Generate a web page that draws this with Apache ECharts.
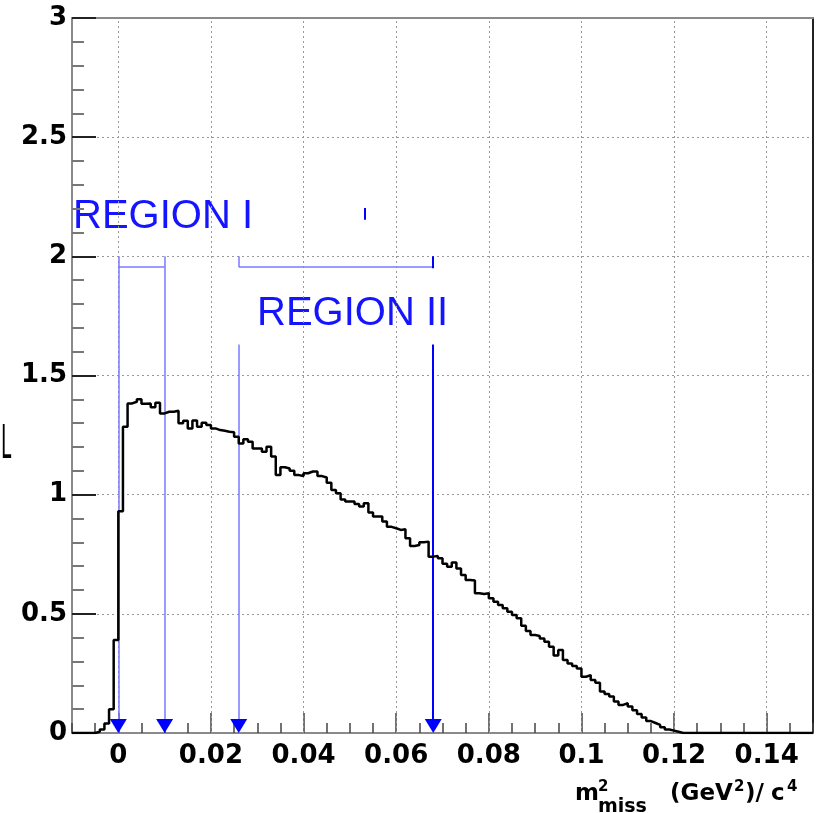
<!DOCTYPE html>
<html><head><meta charset="utf-8">
<script src="https://cdn.jsdelivr.net/npm/echarts@6/dist/echarts.min.js"></script>
<style>html,body{margin:0;padding:0;background:#fff}#c{width:825px;height:813px}</style>
</head><body><div id="c"></div>
<script>
// ---- data ----
const binLow = -0.01;      // first bin lower edge
const binWidth = 0.001;    // bin width (GeV^2/c^4)
const binValues = [
  0,0,0,0,0, 0.005,0.015,0.04,0.10,0.39,
  0.93,1.285,1.383,1.39,1.40,1.381,1.383,1.367,1.386,1.341,
  1.348,1.348,1.352,1.30,1.31,1.278,1.311,1.285,1.302,1.292,
  1.278,1.271,1.268,1.264,1.262,1.243,1.215,1.232,1.222,1.194,
  1.194,1.180,1.201,1.16,1.082,1.115,1.110,1.10,1.082,1.078,
  1.09,1.097,1.097,1.078,1.072,1.05,1.020,1.006,0.98,0.971,
  0.971,0.961,0.950,0.964,0.925,0.908,0.908,0.887,0.865,0.859,
  0.852,0.855,0.817,0.785,0.789,0.80,0.803,0.740,0.743,0.733,
  0.71,0.698,0.715,0.69,0.663,0.642,0.64,0.586,0.583,0.586,
  0.565,0.551,0.537,0.523,0.509,0.495,0.481,0.45,0.428,0.411,
  0.407,0.397,0.383,0.362,0.325,0.348,0.306,0.292,0.281,0.271,
  0.236,0.243,0.222,0.211,0.174,0.164,0.153,0.132,0.118,0.125,
  0.111,0.095,0.080,0.065,0.050,0.042,0.034,0.024,0.015,0.010,
  0.005,0,0,0,0,0,0,0,0,0,
  0,0,0,0,0,0,0,0,0,0,
  0,0,0,0,0,0,0,0,0,0
];
const xMajorTicks = [0, 0.02, 0.04, 0.06, 0.08, 0.1, 0.12, 0.14];
const xRange = [-0.01, 0.15];
const yRange = [0, 3];
const regionI = [0, 0.01];
const regionII = [0.026, 0.068];
const bracketTop = 2.0;
const bracketY = 1.955;
const regionIILineTop = 1.63;
const arrowXs = [0, 0.01, 0.026, 0.068];
const smallMark = [0.0533, 2.153, 2.203];

// ---- build step points ----
const histPoints = binValues.map((v, i) => [+(binLow + i * binWidth).toFixed(4), v]);
histPoints.push([+(binLow + binValues.length * binWidth).toFixed(4), binValues[binValues.length - 1]]);

const fmt = v => String(+(+v).toFixed(3));
const labelFont = {fontFamily: 'DejaVu Sans', fontWeight: 'bold', fontSize: 26, color: '#000'};
const seg = (x1, y1, x2, y2) => [{coord: [x1, y1]}, {coord: [x2, y2]}];

const chart = echarts.init(document.getElementById('c'), null, {renderer: 'canvas'});
chart.setOption({
  animation: false,
  backgroundColor: '#fff',
  grid: {left: 72, right: 12, top: 18, bottom: 80, containLabel: false, outerBoundsMode: 'none'},
  xAxis: [
    {type: 'value', min: xRange[0], max: xRange[1], interval: 0.005, position: 'bottom',
     axisLine: {show: true, onZero: false, lineStyle: {color: '#8a8a8a', width: 2}},
     axisTick: {show: true, inside: true, length: 10, lineStyle: {color: '#444', width: 1.5}},
     axisLabel: {show: false}, splitLine: {show: false}},
    {type: 'value', min: xRange[0], max: xRange[1], position: 'bottom',
     axisLine: {show: false, onZero: false},
     axisTick: {show: true, inside: true, length: 20, customValues: xMajorTicks, lineStyle: {color: '#444', width: 1.5}},
     axisLabel: Object.assign({show: true, customValues: xMajorTicks, formatter: fmt, margin: 10}, labelFont),
     splitLine: {show: false}},
    {type: 'value', min: xRange[0], max: xRange[1], position: 'top',
     axisLine: {show: true, onZero: false, lineStyle: {color: '#8a8a8a', width: 2}},
     axisTick: {show: false}, axisLabel: {show: false}, splitLine: {show: false}}
  ],
  yAxis: [
    {type: 'value', min: yRange[0], max: yRange[1], interval: 0.5, position: 'left',
     axisLine: {show: true, onZero: false, lineStyle: {color: '#8a8a8a', width: 2}},
     axisTick: {show: true, inside: true, length: 24, lineStyle: {color: '#222', width: 2}},
     minorTick: {show: true, splitNumber: 5, length: 12, lineStyle: {color: '#777', width: 2}},
     axisLabel: Object.assign({formatter: fmt, margin: 5, padding: [5, 0, 0, 0]}, labelFont),
     splitLine: {show: true, lineStyle: {color: '#999', type: [2, 3], width: 1}}},
    {type: 'value', min: yRange[0], max: yRange[1], position: 'right',
     axisLine: {show: true, onZero: false, lineStyle: {color: '#222', width: 2}},
     axisTick: {show: false}, axisLabel: {show: false}, splitLine: {show: false}}
  ],
  series: [
    {name: 'grid', type: 'line', data: [], z: 1, silent: true,
     markLine: {silent: true, symbol: ['none', 'none'], label: {show: false},
       lineStyle: {color: '#999', type: [2, 3], width: 1},
       data: xMajorTicks.map(v => ({xAxis: v}))}},
    {name: 'regionsLight', type: 'line', data: [], z: 4, silent: true,
     markLine: {silent: true, symbol: ['none', 'none'], label: {show: false},
       lineStyle: {color: '#7878ff', type: 'solid', width: 1.5},
       data: [
         seg(regionI[0], bracketTop, regionI[0], 0.03),
         seg(regionI[1], bracketTop, regionI[1], 0.03),
         seg(regionI[0], bracketY, regionI[1], bracketY),
         seg(regionII[0], bracketTop, regionII[0], bracketY),
         seg(regionII[0], bracketY, regionII[1], bracketY),
         seg(regionII[0], regionIILineTop, regionII[0], 0.03)
       ]}},
    {name: 'regionsDark', type: 'line', data: [], z: 5, silent: true,
     markLine: {silent: true, symbol: ['none', 'none'], label: {show: false},
       lineStyle: {color: '#0000ff', type: 'solid', width: 2},
       data: [
         seg(regionII[1], bracketTop, regionII[1], bracketY - 0.005),
         seg(regionII[1], regionIILineTop, regionII[1], 0.03),
         seg(smallMark[0], smallMark[1], smallMark[0], smallMark[2])
       ]}},
    {name: 'hist', type: 'line', step: 'end', data: histPoints, symbol: 'none', z: 6,
     lineStyle: {color: '#000', width: 2.5}, clip: true},
    {name: 'arrows', type: 'line', data: [], z: 7, silent: true,
     markPoint: {silent: true, symbol: 'triangle', symbolSize: [17, 14], symbolRotate: 180,
       symbolOffset: [0, -7], itemStyle: {color: '#0000ff'}, label: {show: false},
       data: arrowXs.map(x => ({coord: [x, 0]}))}}
  ],
  graphic: [
    {type: 'text', x: 73, y: 217, silent: true,
     style: {text: 'REGION I', font: '40px "Liberation Sans"', fill: '#1414ff', textAlign: 'left', textVerticalAlign: 'middle'}},
    {type: 'text', x: 257, y: 314, silent: true,
     style: {text: 'REGION II', font: '40px "Liberation Sans"', fill: '#1414ff', textAlign: 'left', textVerticalAlign: 'middle'}},
    {type: 'text', x: 575, y: 794, silent: true,
     style: {text: 'm', font: 'bold 23px "DejaVu Sans"', fill: '#000', textVerticalAlign: 'middle'}},
    {type: 'text', x: 598, y: 787, silent: true,
     style: {text: '2', font: 'bold 15px "DejaVu Sans"', fill: '#000', textVerticalAlign: 'middle'}},
    {type: 'text', x: 598, y: 807, silent: true,
     style: {text: 'miss', font: 'bold 19px "DejaVu Sans"', fill: '#000', textVerticalAlign: 'middle'}},
    {type: 'text', x: 670, y: 794, silent: true,
     style: {text: '(GeV', font: 'bold 23px "DejaVu Sans"', fill: '#000', textVerticalAlign: 'middle'}},
    {type: 'text', x: 734, y: 787, silent: true,
     style: {text: '2', font: 'bold 15px "DejaVu Sans"', fill: '#000', textVerticalAlign: 'middle'}},
    {type: 'text', x: 745, y: 794, silent: true,
     style: {text: ')/', font: 'bold 23px "DejaVu Sans"', fill: '#000', textVerticalAlign: 'middle'}},
    {type: 'text', x: 771, y: 794, silent: true,
     style: {text: 'c', font: 'bold 23px "DejaVu Sans"', fill: '#000', textVerticalAlign: 'middle'}},
    {type: 'text', x: 787, y: 787, silent: true,
     style: {text: '4', font: 'bold 15px "DejaVu Sans"', fill: '#000', textVerticalAlign: 'middle'}},
    {type: 'text', x: 1, y: 446, scaleX: 0.4, silent: true,
     style: {text: 'L', font: '46px "DejaVu Sans"', fill: '#000', textVerticalAlign: 'middle'}}
  ]
});
</script></body></html>
